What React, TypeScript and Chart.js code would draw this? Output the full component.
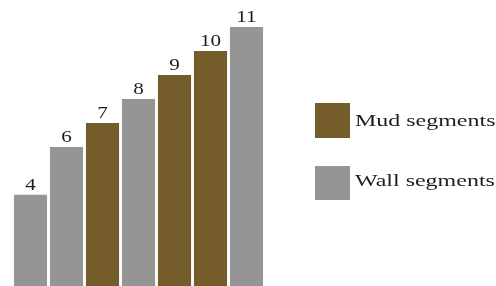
import React, { useEffect, useRef } from "react";
import { Chart, registerables } from "chart.js";

Chart.register(...registerables);

const categories = ["1", "2", "3", "4", "5", "6", "7"];
const mudValues = [null, null, 7, null, 9, 10, null];
const wallValues = [4, 6, null, 8, null, null, 11];
const seriesLabels = ["Mud segments", "Wall segments"];
const seriesColors = ["#745C2B", "#959595"];

const FONT = '"Liberation Serif", "Times New Roman", serif';

const labelPlugin = {
  id: "valueLabels",
  afterDatasetsDraw(chart: any) {
    const ctx = chart.ctx;
    ctx.save();
    ctx.fillStyle = "#1e1e1e";
    ctx.font = `16.5px ${FONT}`;
    ctx.textAlign = "center";
    ctx.textBaseline = "alphabetic";
    chart.data.datasets.forEach((ds: any, di: number) => {
      const meta = chart.getDatasetMeta(di);
      meta.data.forEach((el: any, i: number) => {
        const v = ds.data[i];
        if (v === null || v === undefined) return;
        ctx.save();
        ctx.translate(el.x, el.y - 5);
        ctx.scale(1.28, 1);
        ctx.fillText(String(v), 0, 0);
        ctx.restore();
      });
    });
    ctx.restore();
  },
};

const legendPlugin = {
  id: "customLegend",
  afterDraw(chart: any) {
    const ctx = chart.ctx;
    const items = [
      { box: [315, 103, 35, 35], textY: 126 },
      { box: [315, 166, 35, 34], textY: 186 },
    ];
    ctx.save();
    items.forEach((it, i) => {
      const [bx, by, bw, bh] = it.box;
      ctx.fillStyle = seriesColors[i];
      ctx.fillRect(bx, by, bw, bh);
      ctx.fillStyle = "#1e1e1e";
      ctx.font = `17px ${FONT}`;
      ctx.textAlign = "left";
      ctx.textBaseline = "alphabetic";
      ctx.save();
      ctx.translate(355, it.textY);
      ctx.scale(1.41, 1);
      ctx.fillText(seriesLabels[i], 0, 0);
      ctx.restore();
    });
    ctx.restore();
  },
};

export default function App() {
  const ref = useRef<HTMLCanvasElement>(null);
  useEffect(() => {
    if (!ref.current) return;
    const chart = new Chart(ref.current, {
      type: "bar",
      data: {
        labels: categories,
        datasets: [
          {
            label: seriesLabels[0],
            data: mudValues as any,
            backgroundColor: seriesColors[0],
            borderWidth: 0,
          },
          {
            label: seriesLabels[1],
            data: wallValues as any,
            backgroundColor: seriesColors[1],
            borderWidth: 0,
          },
        ],
      },
      options: {
        responsive: false,
        animation: false,
        layout: { padding: { left: 12.5, right: 231.5, top: 3, bottom: 0 } },
        datasets: { bar: { categoryPercentage: 1, barPercentage: 0.92 } } as any,
        scales: {
          x: { display: false, stacked: true },
          y: { display: false, stacked: true, min: 0.2, max: 12 },
        },
        plugins: {
          legend: { display: false },
          tooltip: { enabled: false },
        },
      },
      plugins: [labelPlugin, legendPlugin],
    });
    return () => chart.destroy();
  }, []);
  return (
    <div style={{ position: "absolute", left: 0, top: 0, width: 496, height: 286, background: "#fff" }}>
      <canvas ref={ref} width={496} height={286} />
    </div>
  );
}
